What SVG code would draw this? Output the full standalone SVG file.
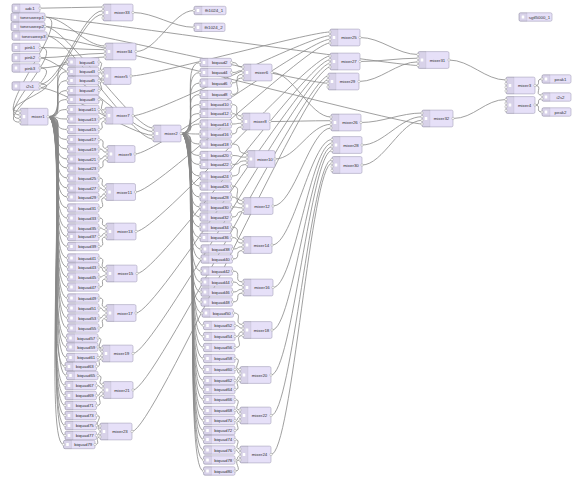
<svg xmlns="http://www.w3.org/2000/svg" xmlns:xlink="http://www.w3.org/1999/xlink" width="580" height="483" viewBox="0 0 580 483">
<style>
.w path{fill:none;stroke:#888;stroke-width:0.8}
.n{fill:#e6e0f8;stroke:#a8a4bc;stroke-width:0.6}
.ic{fill:#000;fill-opacity:0.06;stroke:#000;stroke-opacity:0.12;stroke-width:0.4}
.g{fill:#fff}
.p{fill:#fff;stroke:#999;stroke-width:0.45}
.t{font-family:"Liberation Sans",Arial,sans-serif;font-size:4.4px;fill:#333;text-anchor:middle}
</style>
<defs>
<g id="ic1"><path class="ic" d="M1.5 -4.2H8V4.2H1.5A1.5 1.5 0 0 1 0 2.7V-2.7A1.5 1.5 0 0 1 1.5 -4.2Z"/><rect class="g" x="2.7" y="-1.6" width="2.6" height="3.2" rx="0.4"/></g>
<g id="bq"><rect class="n" x="0" y="-4.2" width="31.5" height="8.4" rx="1.5"/><use href="#ic1"/><circle class="p" cx="0" cy="0" r="1.2"/><circle class="p" cx="31.5" cy="0" r="1.2"/></g>
<g id="mxl"><path class="ic" d="M1.5 -8.4H8V8.4H1.5A1.5 1.5 0 0 1 0 6.9V-6.9A1.5 1.5 0 0 1 1.5 -8.4Z"/><rect class="g" x="2.7" y="-1.6" width="2.6" height="3.2" rx="0.4"/><circle class="p" cx="0" cy="-5.46" r="1.2"/><circle class="p" cx="0" cy="-1.82" r="1.2"/><circle class="p" cx="0" cy="1.82" r="1.2"/><circle class="p" cx="0" cy="5.46" r="1.2"/></g>
</defs>
<rect width="580" height="483" fill="#fff"/>
<g id="connectors" class="w">
<path d="M48 116.7C69 116.7 46.5 62 67.5 62"/>
<path d="M48 116.7C69 116.7 46.5 71.5 67.5 71.5"/>
<path d="M48 116.7C69 116.7 46.5 80.5 67.5 80.5"/>
<path d="M48 116.7C69 116.7 46.5 90.5 67.5 90.5"/>
<path d="M48 116.7C67.5 116.7 48 99.5 67.5 99.5"/>
<path d="M48 116.7C63.6 116.7 51.9 109.5 67.5 109.5"/>
<path d="M48 116.7C62.7 116.7 52.8 119 67.5 119"/>
<path d="M48 116.7C65.5 116.7 50 129.5 67.5 129.5"/>
<path d="M48 116.7C69 116.7 46.5 139.5 67.5 139.5"/>
<path d="M48 116.7C69 116.7 46.5 149 67.5 149"/>
<path d="M48 116.7C69 116.7 46.5 159 67.5 159"/>
<path d="M48 116.7C69 116.7 46.5 168 67.5 168"/>
<path d="M48 116.7C69 116.7 46.5 178 67.5 178"/>
<path d="M48 116.7C69 116.7 46.5 188 67.5 188"/>
<path d="M48 116.7C69 116.7 46.5 197 67.5 197"/>
<path d="M48 116.7C69 116.7 46.5 208 67.5 208"/>
<path d="M48 116.7C69 116.7 46.5 218 67.5 218"/>
<path d="M48 116.7C69 116.7 46.5 228 67.5 228"/>
<path d="M48 116.7C69 116.7 46.5 236.5 67.5 236.5"/>
<path d="M48 116.7C69 116.7 46.5 246.5 67.5 246.5"/>
<path d="M48 116.7C69 116.7 46.5 258 67.5 258"/>
<path d="M48 116.7C69 116.7 46.5 267 67.5 267"/>
<path d="M48 116.7C69 116.7 46.5 277 67.5 277"/>
<path d="M48 116.7C69 116.7 46.5 287 67.5 287"/>
<path d="M48 116.7C69 116.7 46.5 298 67.5 298"/>
<path d="M48 116.7C69 116.7 46.5 308 67.5 308"/>
<path d="M48 116.7C69 116.7 46.5 318 67.5 318"/>
<path d="M48 116.7C69 116.7 46.5 328 67.5 328"/>
<path d="M48 116.7C69 116.7 45.5 338 66.5 338"/>
<path d="M48 116.7C69 116.7 45.5 347 66.5 347"/>
<path d="M48 116.7C69 116.7 45.5 357.5 66.5 357.5"/>
<path d="M48 116.7C69 116.7 44 366.5 65 366.5"/>
<path d="M48 116.7C69 116.7 45.5 375.5 66.5 375.5"/>
<path d="M48 116.7C69 116.7 44 385.5 65 385.5"/>
<path d="M48 116.7C69 116.7 44 395.5 65 395.5"/>
<path d="M48 116.7C69 116.7 44 405.5 65 405.5"/>
<path d="M48 116.7C69 116.7 44 415.5 65 415.5"/>
<path d="M48 116.7C69 116.7 44 425.5 65 425.5"/>
<path d="M48 116.7C69 116.7 44 435.5 65 435.5"/>
<path d="M48 116.7C69 116.7 42.5 444.5 63.5 444.5"/>
<path d="M181 133.5C202 133.5 179 62.5 200 62.5"/>
<path d="M181 133.5C202 133.5 179 72.5 200 72.5"/>
<path d="M181 133.5C202 133.5 179 83 200 83"/>
<path d="M181 133.5C202 133.5 179 94.5 200 94.5"/>
<path d="M181 133.5C202 133.5 179 104.5 200 104.5"/>
<path d="M181 133.5C202 133.5 179 113.5 200 113.5"/>
<path d="M181 133.5C196.9 133.5 184.1 124 200 124"/>
<path d="M181 133.5C195.3 133.5 185.7 134 200 134"/>
<path d="M181 133.5C197.3 133.5 183.7 144 200 144"/>
<path d="M181 133.5C202 133.5 179 155.5 200 155.5"/>
<path d="M181 133.5C202 133.5 179 164.5 200 164.5"/>
<path d="M181 133.5C202 133.5 179 176 200 176"/>
<path d="M181 133.5C202 133.5 179 186 200 186"/>
<path d="M181 133.5C202 133.5 179 197 200 197"/>
<path d="M181 133.5C202 133.5 179 207 200 207"/>
<path d="M181 133.5C202 133.5 179 217 200 217"/>
<path d="M181 133.5C202 133.5 179 227 200 227"/>
<path d="M181 133.5C202 133.5 179 237.5 200 237.5"/>
<path d="M181 133.5C202 133.5 180 249 201 249"/>
<path d="M181 133.5C202 133.5 180 259 201 259"/>
<path d="M181 133.5C202 133.5 180 271 201 271"/>
<path d="M181 133.5C202 133.5 180 282 201 282"/>
<path d="M181 133.5C202 133.5 180 292 201 292"/>
<path d="M181 133.5C202 133.5 180 302 201 302"/>
<path d="M181 133.5C202 133.5 181 313 202 313"/>
<path d="M181 133.5C202 133.5 182.5 325.5 203.5 325.5"/>
<path d="M181 133.5C202 133.5 182.5 336.5 203.5 336.5"/>
<path d="M181 133.5C202 133.5 182.5 347.5 203.5 347.5"/>
<path d="M181 133.5C202 133.5 182.5 358.5 203.5 358.5"/>
<path d="M181 133.5C202 133.5 182.5 369.5 203.5 369.5"/>
<path d="M181 133.5C202 133.5 182.5 380.5 203.5 380.5"/>
<path d="M181 133.5C202 133.5 182.5 389.5 203.5 389.5"/>
<path d="M181 133.5C202 133.5 182.5 399.5 203.5 399.5"/>
<path d="M181 133.5C202 133.5 182.5 410.5 203.5 410.5"/>
<path d="M181 133.5C202 133.5 182.5 420.5 203.5 420.5"/>
<path d="M181 133.5C202 133.5 182.5 430.5 203.5 430.5"/>
<path d="M181 133.5C202 133.5 182.5 439.5 203.5 439.5"/>
<path d="M181 133.5C202 133.5 182.5 450 203.5 450"/>
<path d="M181 133.5C202 133.5 182.5 460 203.5 460"/>
<path d="M181 133.5C202 133.5 182.5 471 203.5 471"/>
<path d="M99 62C106 62 96 70.5 103 70.5"/>
<path d="M99 71.5C102.6 71.5 99.4 74.2 103 74.2"/>
<path d="M99 80.5C102.6 80.5 99.4 77.8 103 77.8"/>
<path d="M99 90.5C106.4 90.5 95.6 81.5 103 81.5"/>
<path d="M99 99.5C108.2 99.5 95.8 110.2 105 110.2"/>
<path d="M99 109.5C104.6 109.5 99.4 113.9 105 113.9"/>
<path d="M99 119C103.6 119 100.4 117.5 105 117.5"/>
<path d="M99 129.5C106.7 129.5 97.3 121.2 105 121.2"/>
<path d="M99 139.5C108 139.5 98 148.5 107 148.5"/>
<path d="M99 149C105.5 149 100.5 152.2 107 152.2"/>
<path d="M99 159C105.5 159 100.5 155.8 107 155.8"/>
<path d="M99 168C107.8 168 98.2 159.5 107 159.5"/>
<path d="M99 178C107 178 97.5 186.5 105.5 186.5"/>
<path d="M99 188C104.2 188 100.3 190.2 105.5 190.2"/>
<path d="M99 197C104.4 197 100.1 193.8 105.5 193.8"/>
<path d="M99 208C108.3 208 96.2 197.5 105.5 197.5"/>
<path d="M99 218C107 218 98 226 106 226"/>
<path d="M99 228C104.4 228 100.6 229.7 106 229.7"/>
<path d="M99 236.5C104.8 236.5 100.2 233.3 106 233.3"/>
<path d="M99 246.5C107.9 246.5 97.1 237 106 237"/>
<path d="M99 258C108.2 258 96.8 268 106 268"/>
<path d="M99 267C105.3 267 99.7 271.7 106 271.7"/>
<path d="M99 277C104.4 277 100.6 275.3 106 275.3"/>
<path d="M99 287C107 287 98 279 106 279"/>
<path d="M99 298C107.9 298 97.1 307.5 106 307.5"/>
<path d="M99 308C104.8 308 100.2 311.2 106 311.2"/>
<path d="M99 318C104.8 318 100.2 314.8 106 314.8"/>
<path d="M99 328C107.9 328 97.1 318.5 106 318.5"/>
<path d="M98 338C106.1 338 93.9 348 102 348"/>
<path d="M98 347C102.6 347 97.4 351.7 102 351.7"/>
<path d="M98 357.5C101.4 357.5 98.6 355.3 102 355.3"/>
<path d="M96.5 366.5C103.5 366.5 95 359 102 359"/>
<path d="M98 375.5C105.7 375.5 95.3 384.5 103 384.5"/>
<path d="M96.5 385.5C101.8 385.5 97.7 388.2 103 388.2"/>
<path d="M96.5 395.5C102.1 395.5 97.4 391.8 103 391.8"/>
<path d="M96.5 405.5C105.4 405.5 94.1 395.5 103 395.5"/>
<path d="M96.5 415.5C104.8 415.5 91.7 426 100 426"/>
<path d="M96.5 425.5C100.6 425.5 95.9 429.7 100 429.7"/>
<path d="M96.5 435.5C99.6 435.5 96.9 433.3 100 433.3"/>
<path d="M95 444.5C101.8 444.5 93.2 437 100 437"/>
<path d="M231.5 62.5C240.8 62.5 233.7 67 243 67"/>
<path d="M231.5 72.5C240.2 72.5 234.3 70.7 243 70.7"/>
<path d="M231.5 83C242.3 83 232.2 74.3 243 74.3"/>
<path d="M231.5 94.5C246.6 94.5 227.9 78 243 78"/>
<path d="M231.5 104.5C243.2 104.5 230.3 116 242 116"/>
<path d="M231.5 113.5C240.6 113.5 232.9 119.7 242 119.7"/>
<path d="M231.5 124C239.4 124 234.1 123.3 242 123.3"/>
<path d="M231.5 134C241 134 232.5 127 242 127"/>
<path d="M231.5 144C245.1 144 233.4 153.5 247 153.5"/>
<path d="M231.5 155.5C243.2 155.5 235.3 157.2 247 157.2"/>
<path d="M231.5 164.5C243.4 164.5 235.1 160.8 247 160.8"/>
<path d="M231.5 176C246 176 232.5 164.5 247 164.5"/>
<path d="M231.5 186C245.4 186 229.1 200.5 243 200.5"/>
<path d="M231.5 197C241.7 197 232.8 204.2 243 204.2"/>
<path d="M231.5 207C240.1 207 234.4 207.8 243 207.8"/>
<path d="M231.5 217C241.1 217 233.4 211.5 243 211.5"/>
<path d="M231.5 227C244.2 227 230.3 239.5 243 239.5"/>
<path d="M231.5 237.5C241.1 237.5 233.4 243.2 243 243.2"/>
<path d="M232.5 249C240.5 249 235 246.8 243 246.8"/>
<path d="M232.5 259C242.6 259 232.9 250.5 243 250.5"/>
<path d="M232.5 271C243.9 271 231.6 282 243 282"/>
<path d="M232.5 282C240.8 282 234.7 285.7 243 285.7"/>
<path d="M232.5 292C240.6 292 234.9 289.3 243 289.3"/>
<path d="M232.5 302C242.9 302 232.6 293 243 293"/>
<path d="M233.5 313C244.7 313 231.8 324.5 243 324.5"/>
<path d="M235 325.5C241.3 325.5 236.7 328.2 243 328.2"/>
<path d="M235 336.5C242 336.5 236 331.8 243 331.8"/>
<path d="M235 347.5C245.8 347.5 232.2 335.5 243 335.5"/>
<path d="M235 358.5C244.1 358.5 230.9 369.5 240 369.5"/>
<path d="M235 369.5C239.7 369.5 235.3 373.2 240 373.2"/>
<path d="M235 380.5C239.7 380.5 235.3 376.8 240 376.8"/>
<path d="M235 389.5C242.7 389.5 232.3 380.5 240 380.5"/>
<path d="M235 399.5C243.7 399.5 231.3 410 240 410"/>
<path d="M235 410.5C239.5 410.5 235.5 413.7 240 413.7"/>
<path d="M235 420.5C239.5 420.5 235.5 417.3 240 417.3"/>
<path d="M235 430.5C243 430.5 232 421 240 421"/>
<path d="M235 439.5C243 439.5 232 449 240 449"/>
<path d="M235 450C239.3 450 235.7 452.7 240 452.7"/>
<path d="M235 460C239.7 460 235.3 456.3 240 456.3"/>
<path d="M235 471C244.1 471 230.9 460 240 460"/>
<path d="M131 76C152 76 309 32 330 32"/>
<path d="M133 115.7C154 115.7 309 35.7 330 35.7"/>
<path d="M135 154C156 154 309 39.3 330 39.3"/>
<path d="M135.5 192C156.5 192 309 43 330 43"/>
<path d="M136 231.5C157 231.5 309 56 330 56"/>
<path d="M137 273.5C158 273.5 309 59.7 330 59.7"/>
<path d="M136 313C157 313 309 63.3 330 63.3"/>
<path d="M133 353.5C154 353.5 309 67 330 67"/>
<path d="M133 390C154 390 307 76 328 76"/>
<path d="M132 431.5C153 431.5 307 79.7 328 79.7"/>
<path d="M45 26.5C66 26.5 307 83.3 328 83.3"/>
<path d="M272 72.5C293 72.5 310 117 331 117"/>
<path d="M270 121.5C291 121.5 310 120.7 331 120.7"/>
<path d="M275 159C296 159 310 124.3 331 124.3"/>
<path d="M273 206C294 206 310 128 331 128"/>
<path d="M272 245C293 245 311 139.5 332 139.5"/>
<path d="M273 287.5C294 287.5 311 143.2 332 143.2"/>
<path d="M272 330C293 330 311 146.8 332 146.8"/>
<path d="M271 375C292 375 311 150.5 332 150.5"/>
<path d="M271 415.5C292 415.5 311 159.5 332 159.5"/>
<path d="M271 454.5C292 454.5 311 163.2 332 163.2"/>
<path d="M360 37.5C381 37.5 397 54.5 418 54.5"/>
<path d="M360 61.5C381 61.5 397 58.2 418 58.2"/>
<path d="M359 81.5C380 81.5 397 61.8 418 61.8"/>
<path d="M45 17.2C66 17.2 397 65.5 418 65.5"/>
<path d="M361 122.5C382 122.5 401 113 422 113"/>
<path d="M362 145C383 145 401 116.7 422 116.7"/>
<path d="M362 165C383 165 401 120.3 422 120.3"/>
<path d="M47 36C68 36 401 124 422 124"/>
<path d="M449 60C470 60 485 80 506 80"/>
<path d="M453 118.5C474 118.5 485 99.5 506 99.5"/>
<path d="M535 85.5C542.2 85.5 534.8 79 542 79"/>
<path d="M535 85.5C544 85.5 533 95.2 542 95.2"/>
<path d="M535 105C542 105 535 98.8 542 98.8"/>
<path d="M535 105C542.4 105 534.6 112 542 112"/>
<path d="M40 84.2C69 84.2 -9 111.2 20 111.2"/>
<path d="M45 17.2C76 17.2 -11 114.9 20 114.9"/>
<path d="M40 47.5C69 47.5 -9 118.5 20 118.5"/>
<path d="M40 68C69 68 -9 122.2 20 122.2"/>
<path d="M45 26.5C66 26.5 132 128 153 128"/>
<path d="M40 57.8C61 57.8 132 131.7 153 131.7"/>
<path d="M40 87.8C61 87.8 132 135.3 153 135.3"/>
<path d="M47 36C68 36 132 139 153 139"/>
<path d="M40 8.2C61 8.2 82 7 103 7"/>
<path d="M40 84.2C61 84.2 82 10.7 103 10.7"/>
<path d="M40 87.8C61 87.8 82 14.3 103 14.3"/>
<path d="M45 17.2C66 17.2 84 46 105 46"/>
<path d="M40 47.5C61 47.5 84 49.7 105 49.7"/>
<path d="M40 57.8C61 57.8 84 53.3 105 53.3"/>
<path d="M40 68C61 68 84 57 105 57"/>
<path d="M133 12.5C154 12.5 173 27.3 194 27.3"/>
<path d="M136 51.5C157 51.5 173 10.5 194 10.5"/>
</g>
<g id="adc1"><rect class="n" x="12" y="4" width="28" height="8.4" rx="1.5"/><use href="#ic1" x="12" y="8.2"/><circle class="p" cx="40" cy="8.2" r="1.2"/><text class="t" x="30" y="9.7">adc1</text></g>
<g id="tonesweep1"><rect class="n" x="11" y="13" width="34" height="8.4" rx="1.5"/><use href="#ic1" x="11" y="17.2"/><circle class="p" cx="45" cy="17.2" r="1.2"/><text class="t" x="32" y="18.7">tonesweep1</text></g>
<g id="tonesweep2"><rect class="n" x="11" y="22.3" width="34" height="8.4" rx="1.5"/><use href="#ic1" x="11" y="26.5"/><circle class="p" cx="45" cy="26.5" r="1.2"/><text class="t" x="32" y="28">tonesweep2</text></g>
<g id="tonesweep3"><rect class="n" x="12" y="31.8" width="35" height="8.4" rx="1.5"/><use href="#ic1" x="12" y="36"/><circle class="p" cx="47" cy="36" r="1.2"/><text class="t" x="33.5" y="37.5">tonesweep3</text></g>
<g id="pink1"><rect class="n" x="12" y="43.3" width="28" height="8.4" rx="1.5"/><use href="#ic1" x="12" y="47.5"/><circle class="p" cx="40" cy="47.5" r="1.2"/><text class="t" x="30" y="49">pink1</text></g>
<g id="pink2"><rect class="n" x="12" y="53.6" width="28" height="8.4" rx="1.5"/><use href="#ic1" x="12" y="57.8"/><circle class="p" cx="40" cy="57.8" r="1.2"/><text class="t" x="30" y="59.3">pink2</text></g>
<g id="pink3"><rect class="n" x="12" y="63.8" width="28" height="8.4" rx="1.5"/><use href="#ic1" x="12" y="68"/><circle class="p" cx="40" cy="68" r="1.2"/><text class="t" x="30" y="69.5">pink3</text></g>
<g id="i2s1"><rect class="n" x="12" y="81.8" width="28" height="8.4" rx="1.5"/><use href="#ic1" x="12" y="86"/><circle class="p" cx="40" cy="84.2" r="1.2"/><circle class="p" cx="40" cy="87.8" r="1.2"/><text class="t" x="30" y="87.5">i2s1</text></g>
<g id="fft1024_1"><rect class="n" x="194" y="6.3" width="32" height="8.4" rx="1.5"/><use href="#ic1" x="194" y="10.5"/><circle class="p" cx="194" cy="10.5" r="1.2"/><text class="t" x="214" y="12">fft1024_1</text></g>
<g id="fft1024_2"><rect class="n" x="194" y="23.1" width="31" height="8.4" rx="1.5"/><use href="#ic1" x="194" y="27.3"/><circle class="p" cx="194" cy="27.3" r="1.2"/><text class="t" x="213.5" y="28.8">fft1024_2</text></g>
<g id="sgtl5000_1"><rect class="n" x="519" y="12.8" width="33" height="8.4" rx="1.5"/><use href="#ic1" x="519" y="17"/><text class="t" x="539.5" y="18.5">sgtl5000_1</text></g>
<g id="peak1"><rect class="n" x="542" y="74.8" width="29" height="8.4" rx="1.5"/><use href="#ic1" x="542" y="79"/><circle class="p" cx="542" cy="79" r="1.2"/><text class="t" x="560.5" y="80.5">peak1</text></g>
<g id="i2s2"><rect class="n" x="542" y="92.8" width="29" height="8.4" rx="1.5"/><use href="#ic1" x="542" y="97"/><circle class="p" cx="542" cy="95.2" r="1.2"/><circle class="p" cx="542" cy="98.8" r="1.2"/><text class="t" x="560.5" y="98.5">i2s2</text></g>
<g id="peak2"><rect class="n" x="542" y="107.8" width="29" height="8.4" rx="1.5"/><use href="#ic1" x="542" y="112"/><circle class="p" cx="542" cy="112" r="1.2"/><text class="t" x="560.5" y="113.5">peak2</text></g>
<g id="mixer1"><rect class="n" x="20" y="108.3" width="28" height="16.8" rx="1.5"/><use href="#mxl" x="20" y="116.7"/><circle class="p" cx="48" cy="116.7" r="1.2"/><text class="t" x="38" y="118.2">mixer1</text></g>
<g id="mixer2"><rect class="n" x="153" y="125.1" width="28" height="16.8" rx="1.5"/><use href="#mxl" x="153" y="133.5"/><circle class="p" cx="181" cy="133.5" r="1.2"/><text class="t" x="171" y="135">mixer2</text></g>
<g id="mixer3"><rect class="n" x="506" y="77.1" width="29" height="16.8" rx="1.5"/><use href="#mxl" x="506" y="85.5"/><circle class="p" cx="535" cy="85.5" r="1.2"/><text class="t" x="524.5" y="87">mixer3</text></g>
<g id="mixer4"><rect class="n" x="506" y="96.6" width="29" height="16.8" rx="1.5"/><use href="#mxl" x="506" y="105"/><circle class="p" cx="535" cy="105" r="1.2"/><text class="t" x="524.5" y="106.5">mixer4</text></g>
<g id="mixer5"><rect class="n" x="103" y="67.6" width="28" height="16.8" rx="1.5"/><use href="#mxl" x="103" y="76"/><circle class="p" cx="131" cy="76" r="1.2"/><text class="t" x="121" y="77.5">mixer5</text></g>
<g id="mixer6"><rect class="n" x="243" y="64.1" width="29" height="16.8" rx="1.5"/><use href="#mxl" x="243" y="72.5"/><circle class="p" cx="272" cy="72.5" r="1.2"/><text class="t" x="261.5" y="74">mixer6</text></g>
<g id="mixer7"><rect class="n" x="105" y="107.3" width="28" height="16.8" rx="1.5"/><use href="#mxl" x="105" y="115.7"/><circle class="p" cx="133" cy="115.7" r="1.2"/><text class="t" x="123" y="117.2">mixer7</text></g>
<g id="mixer8"><rect class="n" x="242" y="113.1" width="28" height="16.8" rx="1.5"/><use href="#mxl" x="242" y="121.5"/><circle class="p" cx="270" cy="121.5" r="1.2"/><text class="t" x="260" y="123">mixer8</text></g>
<g id="mixer9"><rect class="n" x="107" y="145.6" width="28" height="16.8" rx="1.5"/><use href="#mxl" x="107" y="154"/><circle class="p" cx="135" cy="154" r="1.2"/><text class="t" x="125" y="155.5">mixer9</text></g>
<g id="mixer10"><rect class="n" x="247" y="150.6" width="28" height="16.8" rx="1.5"/><use href="#mxl" x="247" y="159"/><circle class="p" cx="275" cy="159" r="1.2"/><text class="t" x="265" y="160.5">mixer10</text></g>
<g id="mixer11"><rect class="n" x="105.5" y="183.6" width="30" height="16.8" rx="1.5"/><use href="#mxl" x="105.5" y="192"/><circle class="p" cx="135.5" cy="192" r="1.2"/><text class="t" x="124.5" y="193.5">mixer11</text></g>
<g id="mixer12"><rect class="n" x="243" y="197.6" width="30" height="16.8" rx="1.5"/><use href="#mxl" x="243" y="206"/><circle class="p" cx="273" cy="206" r="1.2"/><text class="t" x="262" y="207.5">mixer12</text></g>
<g id="mixer13"><rect class="n" x="106" y="223.1" width="30" height="16.8" rx="1.5"/><use href="#mxl" x="106" y="231.5"/><circle class="p" cx="136" cy="231.5" r="1.2"/><text class="t" x="125" y="233">mixer13</text></g>
<g id="mixer14"><rect class="n" x="243" y="236.6" width="29" height="16.8" rx="1.5"/><use href="#mxl" x="243" y="245"/><circle class="p" cx="272" cy="245" r="1.2"/><text class="t" x="261.5" y="246.5">mixer14</text></g>
<g id="mixer15"><rect class="n" x="106" y="265.1" width="31" height="16.8" rx="1.5"/><use href="#mxl" x="106" y="273.5"/><circle class="p" cx="137" cy="273.5" r="1.2"/><text class="t" x="125.5" y="275">mixer15</text></g>
<g id="mixer16"><rect class="n" x="243" y="279.1" width="30" height="16.8" rx="1.5"/><use href="#mxl" x="243" y="287.5"/><circle class="p" cx="273" cy="287.5" r="1.2"/><text class="t" x="262" y="289">mixer16</text></g>
<g id="mixer17"><rect class="n" x="106" y="304.6" width="30" height="16.8" rx="1.5"/><use href="#mxl" x="106" y="313"/><circle class="p" cx="136" cy="313" r="1.2"/><text class="t" x="125" y="314.5">mixer17</text></g>
<g id="mixer18"><rect class="n" x="243" y="321.6" width="29" height="16.8" rx="1.5"/><use href="#mxl" x="243" y="330"/><circle class="p" cx="272" cy="330" r="1.2"/><text class="t" x="261.5" y="331.5">mixer18</text></g>
<g id="mixer19"><rect class="n" x="102" y="345.1" width="31" height="16.8" rx="1.5"/><use href="#mxl" x="102" y="353.5"/><circle class="p" cx="133" cy="353.5" r="1.2"/><text class="t" x="121.5" y="355">mixer19</text></g>
<g id="mixer20"><rect class="n" x="240" y="366.6" width="31" height="16.8" rx="1.5"/><use href="#mxl" x="240" y="375"/><circle class="p" cx="271" cy="375" r="1.2"/><text class="t" x="259.5" y="376.5">mixer20</text></g>
<g id="mixer21"><rect class="n" x="103" y="381.6" width="30" height="16.8" rx="1.5"/><use href="#mxl" x="103" y="390"/><circle class="p" cx="133" cy="390" r="1.2"/><text class="t" x="122" y="391.5">mixer21</text></g>
<g id="mixer22"><rect class="n" x="240" y="407.1" width="31" height="16.8" rx="1.5"/><use href="#mxl" x="240" y="415.5"/><circle class="p" cx="271" cy="415.5" r="1.2"/><text class="t" x="259.5" y="417">mixer22</text></g>
<g id="mixer23"><rect class="n" x="100" y="423.1" width="32" height="16.8" rx="1.5"/><use href="#mxl" x="100" y="431.5"/><circle class="p" cx="132" cy="431.5" r="1.2"/><text class="t" x="120" y="433">mixer23</text></g>
<g id="mixer24"><rect class="n" x="240" y="446.1" width="31" height="16.8" rx="1.5"/><use href="#mxl" x="240" y="454.5"/><circle class="p" cx="271" cy="454.5" r="1.2"/><text class="t" x="259.5" y="456">mixer24</text></g>
<g id="mixer25"><rect class="n" x="330" y="29.1" width="30" height="16.8" rx="1.5"/><use href="#mxl" x="330" y="37.5"/><circle class="p" cx="360" cy="37.5" r="1.2"/><text class="t" x="349" y="39">mixer25</text></g>
<g id="mixer26"><rect class="n" x="331" y="114.1" width="30" height="16.8" rx="1.5"/><use href="#mxl" x="331" y="122.5"/><circle class="p" cx="361" cy="122.5" r="1.2"/><text class="t" x="350" y="124">mixer26</text></g>
<g id="mixer27"><rect class="n" x="330" y="53.1" width="30" height="16.8" rx="1.5"/><use href="#mxl" x="330" y="61.5"/><circle class="p" cx="360" cy="61.5" r="1.2"/><text class="t" x="349" y="63">mixer27</text></g>
<g id="mixer28"><rect class="n" x="332" y="136.6" width="30" height="16.8" rx="1.5"/><use href="#mxl" x="332" y="145"/><circle class="p" cx="362" cy="145" r="1.2"/><text class="t" x="351" y="146.5">mixer28</text></g>
<g id="mixer29"><rect class="n" x="328" y="73.1" width="31" height="16.8" rx="1.5"/><use href="#mxl" x="328" y="81.5"/><circle class="p" cx="359" cy="81.5" r="1.2"/><text class="t" x="347.5" y="83">mixer29</text></g>
<g id="mixer30"><rect class="n" x="332" y="156.6" width="30" height="16.8" rx="1.5"/><use href="#mxl" x="332" y="165"/><circle class="p" cx="362" cy="165" r="1.2"/><text class="t" x="351" y="166.5">mixer30</text></g>
<g id="mixer31"><rect class="n" x="418" y="51.6" width="31" height="16.8" rx="1.5"/><use href="#mxl" x="418" y="60"/><circle class="p" cx="449" cy="60" r="1.2"/><text class="t" x="437.5" y="61.5">mixer31</text></g>
<g id="mixer32"><rect class="n" x="422" y="110.1" width="31" height="16.8" rx="1.5"/><use href="#mxl" x="422" y="118.5"/><circle class="p" cx="453" cy="118.5" r="1.2"/><text class="t" x="441.5" y="120">mixer32</text></g>
<g id="mixer33"><rect class="n" x="103" y="4.1" width="30" height="16.8" rx="1.5"/><use href="#mxl" x="103" y="12.5"/><circle class="p" cx="133" cy="12.5" r="1.2"/><text class="t" x="122" y="14">mixer33</text></g>
<g id="mixer34"><rect class="n" x="105" y="43.1" width="31" height="16.8" rx="1.5"/><use href="#mxl" x="105" y="51.5"/><circle class="p" cx="136" cy="51.5" r="1.2"/><text class="t" x="124.5" y="53">mixer34</text></g>
<g id="biquad1"><use href="#bq" x="67.5" y="62"/><text class="t" x="87.25" y="63.5">biquad1</text></g>
<g id="biquad3"><use href="#bq" x="67.5" y="71.5"/><text class="t" x="87.25" y="73">biquad3</text></g>
<g id="biquad5"><use href="#bq" x="67.5" y="80.5"/><text class="t" x="87.25" y="82">biquad5</text></g>
<g id="biquad7"><use href="#bq" x="67.5" y="90.5"/><text class="t" x="87.25" y="92">biquad7</text></g>
<g id="biquad9"><use href="#bq" x="67.5" y="99.5"/><text class="t" x="87.25" y="101">biquad9</text></g>
<g id="biquad11"><use href="#bq" x="67.5" y="109.5"/><text class="t" x="87.25" y="111">biquad11</text></g>
<g id="biquad13"><use href="#bq" x="67.5" y="119"/><text class="t" x="87.25" y="120.5">biquad13</text></g>
<g id="biquad15"><use href="#bq" x="67.5" y="129.5"/><text class="t" x="87.25" y="131">biquad15</text></g>
<g id="biquad17"><use href="#bq" x="67.5" y="139.5"/><text class="t" x="87.25" y="141">biquad17</text></g>
<g id="biquad19"><use href="#bq" x="67.5" y="149"/><text class="t" x="87.25" y="150.5">biquad19</text></g>
<g id="biquad21"><use href="#bq" x="67.5" y="159"/><text class="t" x="87.25" y="160.5">biquad21</text></g>
<g id="biquad23"><use href="#bq" x="67.5" y="168"/><text class="t" x="87.25" y="169.5">biquad23</text></g>
<g id="biquad25"><use href="#bq" x="67.5" y="178"/><text class="t" x="87.25" y="179.5">biquad25</text></g>
<g id="biquad27"><use href="#bq" x="67.5" y="188"/><text class="t" x="87.25" y="189.5">biquad27</text></g>
<g id="biquad29"><use href="#bq" x="67.5" y="197"/><text class="t" x="87.25" y="198.5">biquad29</text></g>
<g id="biquad31"><use href="#bq" x="67.5" y="208"/><text class="t" x="87.25" y="209.5">biquad31</text></g>
<g id="biquad33"><use href="#bq" x="67.5" y="218"/><text class="t" x="87.25" y="219.5">biquad33</text></g>
<g id="biquad35"><use href="#bq" x="67.5" y="228"/><text class="t" x="87.25" y="229.5">biquad35</text></g>
<g id="biquad37"><use href="#bq" x="67.5" y="236.5"/><text class="t" x="87.25" y="238">biquad37</text></g>
<g id="biquad39"><use href="#bq" x="67.5" y="246.5"/><text class="t" x="87.25" y="248">biquad39</text></g>
<g id="biquad41"><use href="#bq" x="67.5" y="258"/><text class="t" x="87.25" y="259.5">biquad41</text></g>
<g id="biquad43"><use href="#bq" x="67.5" y="267"/><text class="t" x="87.25" y="268.5">biquad43</text></g>
<g id="biquad45"><use href="#bq" x="67.5" y="277"/><text class="t" x="87.25" y="278.5">biquad45</text></g>
<g id="biquad47"><use href="#bq" x="67.5" y="287"/><text class="t" x="87.25" y="288.5">biquad47</text></g>
<g id="biquad49"><use href="#bq" x="67.5" y="298"/><text class="t" x="87.25" y="299.5">biquad49</text></g>
<g id="biquad51"><use href="#bq" x="67.5" y="308"/><text class="t" x="87.25" y="309.5">biquad51</text></g>
<g id="biquad53"><use href="#bq" x="67.5" y="318"/><text class="t" x="87.25" y="319.5">biquad53</text></g>
<g id="biquad55"><use href="#bq" x="67.5" y="328"/><text class="t" x="87.25" y="329.5">biquad55</text></g>
<g id="biquad57"><use href="#bq" x="66.5" y="338"/><text class="t" x="86.25" y="339.5">biquad57</text></g>
<g id="biquad59"><use href="#bq" x="66.5" y="347"/><text class="t" x="86.25" y="348.5">biquad59</text></g>
<g id="biquad61"><use href="#bq" x="66.5" y="357.5"/><text class="t" x="86.25" y="359">biquad61</text></g>
<g id="biquad63"><use href="#bq" x="65" y="366.5"/><text class="t" x="84.75" y="368">biquad63</text></g>
<g id="biquad65"><use href="#bq" x="66.5" y="375.5"/><text class="t" x="86.25" y="377">biquad65</text></g>
<g id="biquad67"><use href="#bq" x="65" y="385.5"/><text class="t" x="84.75" y="387">biquad67</text></g>
<g id="biquad69"><use href="#bq" x="65" y="395.5"/><text class="t" x="84.75" y="397">biquad69</text></g>
<g id="biquad71"><use href="#bq" x="65" y="405.5"/><text class="t" x="84.75" y="407">biquad71</text></g>
<g id="biquad73"><use href="#bq" x="65" y="415.5"/><text class="t" x="84.75" y="417">biquad73</text></g>
<g id="biquad75"><use href="#bq" x="65" y="425.5"/><text class="t" x="84.75" y="427">biquad75</text></g>
<g id="biquad77"><use href="#bq" x="65" y="435.5"/><text class="t" x="84.75" y="437">biquad77</text></g>
<g id="biquad79"><use href="#bq" x="63.5" y="444.5"/><text class="t" x="83.25" y="446">biquad79</text></g>
<g id="biquad2"><use href="#bq" x="200" y="62.5"/><text class="t" x="219.75" y="64">biquad2</text></g>
<g id="biquad4"><use href="#bq" x="200" y="72.5"/><text class="t" x="219.75" y="74">biquad4</text></g>
<g id="biquad6"><use href="#bq" x="200" y="83"/><text class="t" x="219.75" y="84.5">biquad6</text></g>
<g id="biquad8"><use href="#bq" x="200" y="94.5"/><text class="t" x="219.75" y="96">biquad8</text></g>
<g id="biquad10"><use href="#bq" x="200" y="104.5"/><text class="t" x="219.75" y="106">biquad10</text></g>
<g id="biquad12"><use href="#bq" x="200" y="113.5"/><text class="t" x="219.75" y="115">biquad12</text></g>
<g id="biquad14"><use href="#bq" x="200" y="124"/><text class="t" x="219.75" y="125.5">biquad14</text></g>
<g id="biquad16"><use href="#bq" x="200" y="134"/><text class="t" x="219.75" y="135.5">biquad16</text></g>
<g id="biquad18"><use href="#bq" x="200" y="144"/><text class="t" x="219.75" y="145.5">biquad18</text></g>
<g id="biquad20"><use href="#bq" x="200" y="155.5"/><text class="t" x="219.75" y="157">biquad20</text></g>
<g id="biquad22"><use href="#bq" x="200" y="164.5"/><text class="t" x="219.75" y="166">biquad22</text></g>
<g id="biquad24"><use href="#bq" x="200" y="176"/><text class="t" x="219.75" y="177.5">biquad24</text></g>
<g id="biquad26"><use href="#bq" x="200" y="186"/><text class="t" x="219.75" y="187.5">biquad26</text></g>
<g id="biquad28"><use href="#bq" x="200" y="197"/><text class="t" x="219.75" y="198.5">biquad28</text></g>
<g id="biquad30"><use href="#bq" x="200" y="207"/><text class="t" x="219.75" y="208.5">biquad30</text></g>
<g id="biquad32"><use href="#bq" x="200" y="217"/><text class="t" x="219.75" y="218.5">biquad32</text></g>
<g id="biquad34"><use href="#bq" x="200" y="227"/><text class="t" x="219.75" y="228.5">biquad34</text></g>
<g id="biquad36"><use href="#bq" x="200" y="237.5"/><text class="t" x="219.75" y="239">biquad36</text></g>
<g id="biquad38"><use href="#bq" x="201" y="249"/><text class="t" x="220.75" y="250.5">biquad38</text></g>
<g id="biquad40"><use href="#bq" x="201" y="259"/><text class="t" x="220.75" y="260.5">biquad40</text></g>
<g id="biquad42"><use href="#bq" x="201" y="271"/><text class="t" x="220.75" y="272.5">biquad42</text></g>
<g id="biquad44"><use href="#bq" x="201" y="282"/><text class="t" x="220.75" y="283.5">biquad44</text></g>
<g id="biquad46"><use href="#bq" x="201" y="292"/><text class="t" x="220.75" y="293.5">biquad46</text></g>
<g id="biquad48"><use href="#bq" x="201" y="302"/><text class="t" x="220.75" y="303.5">biquad48</text></g>
<g id="biquad50"><use href="#bq" x="202" y="313"/><text class="t" x="221.75" y="314.5">biquad50</text></g>
<g id="biquad52"><use href="#bq" x="203.5" y="325.5"/><text class="t" x="223.25" y="327">biquad52</text></g>
<g id="biquad54"><use href="#bq" x="203.5" y="336.5"/><text class="t" x="223.25" y="338">biquad54</text></g>
<g id="biquad56"><use href="#bq" x="203.5" y="347.5"/><text class="t" x="223.25" y="349">biquad56</text></g>
<g id="biquad58"><use href="#bq" x="203.5" y="358.5"/><text class="t" x="223.25" y="360">biquad58</text></g>
<g id="biquad60"><use href="#bq" x="203.5" y="369.5"/><text class="t" x="223.25" y="371">biquad60</text></g>
<g id="biquad62"><use href="#bq" x="203.5" y="380.5"/><text class="t" x="223.25" y="382">biquad62</text></g>
<g id="biquad64"><use href="#bq" x="203.5" y="389.5"/><text class="t" x="223.25" y="391">biquad64</text></g>
<g id="biquad66"><use href="#bq" x="203.5" y="399.5"/><text class="t" x="223.25" y="401">biquad66</text></g>
<g id="biquad68"><use href="#bq" x="203.5" y="410.5"/><text class="t" x="223.25" y="412">biquad68</text></g>
<g id="biquad70"><use href="#bq" x="203.5" y="420.5"/><text class="t" x="223.25" y="422">biquad70</text></g>
<g id="biquad72"><use href="#bq" x="203.5" y="430.5"/><text class="t" x="223.25" y="432">biquad72</text></g>
<g id="biquad74"><use href="#bq" x="203.5" y="439.5"/><text class="t" x="223.25" y="441">biquad74</text></g>
<g id="biquad76"><use href="#bq" x="203.5" y="450"/><text class="t" x="223.25" y="451.5">biquad76</text></g>
<g id="biquad78"><use href="#bq" x="203.5" y="460"/><text class="t" x="223.25" y="461.5">biquad78</text></g>
<g id="biquad80"><use href="#bq" x="203.5" y="471"/><text class="t" x="223.25" y="472.5">biquad80</text></g>
</svg>
